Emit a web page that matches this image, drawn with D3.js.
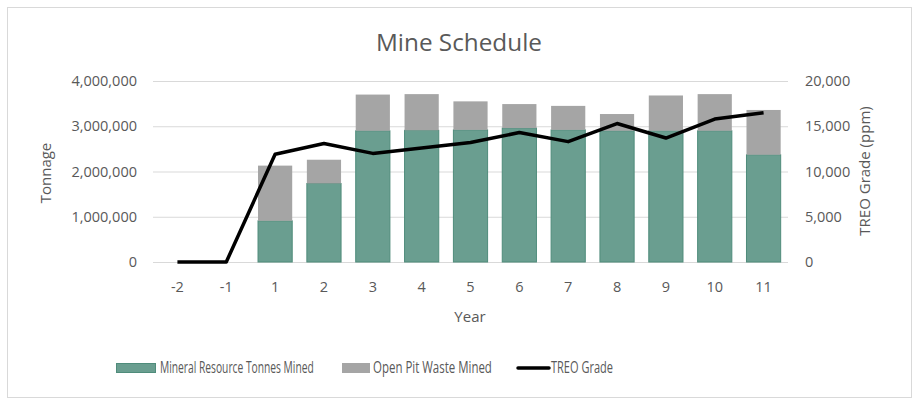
<!DOCTYPE html>
<html><head><meta charset="utf-8">
<script src="https://cdn.jsdelivr.net/npm/d3@7"></script>
<style>body{margin:0;background:#fff}svg{display:block;font-family:"Open Sans",sans-serif}</style>
</head><body><svg id="c" width="923" height="406"></svg>
<script>
const years = ["-2","-1","1","2","3","4","5","6","7","8","9","10","11"];
const mineralTonnes = [0,0,910000,1735000,2900000,2910000,2920000,2960000,2920000,2900000,2900000,2900000,2370000];
const wasteTonnes = [0,0,1220000,525000,800000,800000,630000,530000,530000,370000,780000,810000,990000];
const treoGrade = [0,0,11900,13100,12000,12600,13200,14300,13300,15300,13700,15800,16500];
const leftTicks = [0,1000000,2000000,3000000,4000000];
const rightTicks = [0,5000,10000,15000,20000];

const svg = d3.select("#c");
const L=153, R=788, T=81, B=262;
const txt="#595959";
svg.append("rect").attr("x",7.5).attr("y",7.5).attr("width",904).attr("height",390).attr("fill","#fff").attr("stroke","#d9d9d9");

const x = d3.scaleBand().domain(years).range([L,R]).paddingInner(0.3).paddingOuter(0.15);
const y = d3.scaleLinear().domain([0,4000000]).range([B,T]);
const y2 = d3.scaleLinear().domain([0,20000]).range([B,T]);

svg.append("g").selectAll("line").data(leftTicks).join("line")
  .attr("x1",L).attr("x2",R).attr("y1",d=>y(d)+0.5).attr("y2",d=>y(d)+0.5)
  .attr("stroke","#d9d9d9").attr("stroke-width",1);

const fs=14.5;
svg.append("g").selectAll("text").data(leftTicks).join("text")
  .attr("x",137).attr("y",d=>y(d)).attr("dy","0.35em").attr("text-anchor","end")
  .attr("font-size",fs).attr("fill",txt).text(d=>d3.format(",")(d));
svg.append("g").selectAll("text").data(rightTicks).join("text")
  .attr("x",805).attr("y",d=>y2(d)).attr("dy","0.35em").attr("text-anchor","start")
  .attr("font-size",fs).attr("fill",txt).text(d=>d3.format(",")(d));
svg.append("g").selectAll("text").data(years).join("text")
  .attr("x",d=>x(d)+x.bandwidth()/2).attr("y",287).attr("dy","0.35em").attr("text-anchor","middle")
  .attr("font-size",fs).attr("fill",txt).text(d=>d);

const data = years.map((yr,i)=>({yr,m:mineralTonnes[i],w:wasteTonnes[i],g:treoGrade[i]}));
const bars = svg.append("g");
bars.selectAll("rect.m").data(data.filter(d=>d.m>0)).join("rect").attr("class","m")
  .attr("x",d=>x(d.yr)).attr("width",x.bandwidth())
  .attr("y",d=>y(d.m)).attr("height",d=>B-y(d.m))
  .attr("fill","#6a9e90").attr("stroke","#4f8c7b").attr("stroke-width",1);
bars.selectAll("rect.w").data(data.filter(d=>d.w>0)).join("rect").attr("class","w")
  .attr("x",d=>x(d.yr)).attr("width",x.bandwidth())
  .attr("y",d=>y(d.m+d.w)).attr("height",d=>y(d.m)-y(d.m+d.w))
  .attr("fill","#a5a5a5");

const line = d3.line().x(d=>x(d.yr)+x.bandwidth()/2).y(d=>y2(d.g));
svg.append("path").datum(data).attr("d",line).attr("fill","none")
  .attr("stroke","#000").attr("stroke-width",3.5).attr("stroke-linejoin","round");

// text fitted to a width by horizontal scaling
function fitText(g, str, x0, y0, w, size, anchor){
  const t = g.append("text").attr("font-size",size).attr("fill",txt).attr("dy","0.35em").text(str);
  const nat = t.node().getComputedTextLength();
  const s = w/nat;
  const left = anchor==="middle" ? x0 - w/2 : x0;
  t.attr("transform",`translate(${left},${y0}) scale(${s},1)`);
  return t;
}

fitText(svg,"Mine Schedule",459,43,166,23,"middle");
svg.append("text").attr("transform","translate(51,173) rotate(-90)").attr("text-anchor","middle")
  .attr("font-size",15).attr("fill",txt).text("Tonnage");
svg.append("text").attr("transform","translate(870,171) rotate(-90)").attr("text-anchor","middle")
  .attr("font-size",15).attr("fill",txt).text("TREO Grade (ppm)");
svg.append("text").attr("x",470).attr("y",317).attr("dy","0.35em").attr("text-anchor","middle")
  .attr("font-size",15).attr("fill",txt).text("Year");

const lg = svg.append("g");
const lfs=15.5;
lg.append("rect").attr("x",116.5).attr("y",363.5).attr("width",39).attr("height",9).attr("fill","#6a9e90").attr("stroke","#4f8c7b");
fitText(lg,"Mineral Resource Tonnes Mined",160,368,154,lfs,"start");
lg.append("rect").attr("x",342).attr("y",363).attr("width",28).attr("height",10).attr("fill","#a5a5a5");
fitText(lg,"Open Pit Waste Mined",373,368,119,lfs,"start");
lg.append("line").attr("x1",518).attr("x2",549).attr("y1",368).attr("y2",368).attr("stroke","#000").attr("stroke-width",3.5).attr("stroke-linecap","round");
fitText(lg,"TREO Grade",551,368,62,lfs,"start");
</script></body></html>
